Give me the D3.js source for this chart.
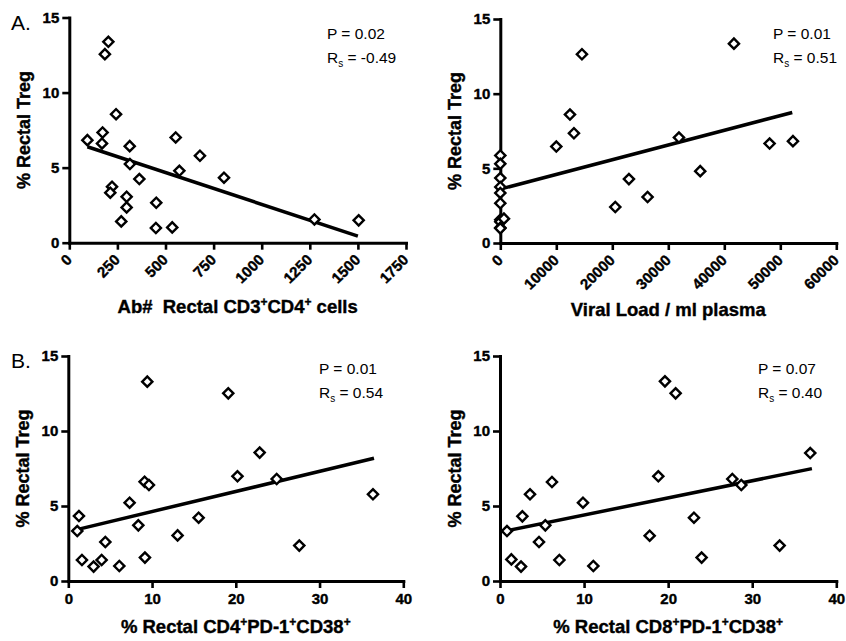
<!DOCTYPE html>
<html>
<head>
<meta charset="utf-8">
<script src="https://cdn.jsdelivr.net/npm/d3@7"></script>
<style>
  body { margin: 0; background: #fff; }
  text { font-family: "Liberation Sans", Arial, sans-serif; fill: #000; }
  .tick text { font-weight: bold; font-size: 15px; stroke: #000; stroke-width: 0.4px; }
  .heavy { stroke: #000; stroke-width: 0.4px; }
</style>
</head>
<body>
<svg id="fig"></svg>
<script>
// size of the figure
var width = 846,
    height = 641;

// panel A: absolute rectal CD3+CD4+ cells vs % Treg
var absCountA = [94, 203, 185, 173, 170, 243, 314, 315, 364, 222, 213, 298, 298, 270, 452, 450, 535, 553, 572, 679, 804, 1274, 1504];
var tregA = [6.83, 13.38, 12.56, 7.34, 6.61, 8.56, 6.43, 5.24, 4.24, 3.73, 3.33, 3.06, 2.35, 1.42, 2.66, 0.98, 1.02, 7.01, 4.79, 5.79, 4.33, 1.55, 1.49];
var fitA = [[94, 6.39], [1500, 0.44]];
var ticksA = [0, 250, 500, 750, 1000, 1250, 1500, 1750];

// panel B: viral load vs % Treg
var viralB = [0, 0, 0, 0, 0, 0, 0, 0, 0, 0, 650, 10000, 12440, 13150, 14580, 20530, 22970, 26300, 31900, 35700, 41720, 48090, 52260];
var tregB = [5.86, 5.30, 4.35, 3.75, 3.35, 2.66, 1.55, 1.42, 1.02, 0.98, 1.63, 6.46, 8.60, 7.35, 12.64, 2.41, 4.28, 3.08, 7.06, 4.81, 13.35, 6.66, 6.82];
var fitB = [[0, 3.61], [52140, 8.74]];
var ticksB = [0, 10000, 20000, 30000, 40000, 50000, 60000];

// panel C: % CD4+PD-1+CD38+ vs % Treg
var cd4C = [1.27, 1.07, 1.63, 3.02, 3.98, 4.42, 6.09, 7.32, 8.36, 9.11, 9.63, 9.15, 9.43, 13.05, 15.56, 19.1, 20.2, 22.85, 24.88, 27.58, 36.38];
var tregC = [4.33, 3.33, 1.40, 0.96, 1.40, 2.60, 1.00, 5.22, 3.71, 6.62, 6.40, 1.56, 13.29, 3.04, 4.22, 12.51, 6.98, 8.56, 6.80, 2.36, 5.78];
var fitC = [[0.52, 3.36], [36.5, 8.18]];

// panel D: % CD8+PD-1+CD38+ vs % Treg
var cd8D = [0.83, 1.35, 2.5, 2.66, 3.57, 4.64, 5.39, 6.18, 7.06, 9.87, 11.1, 17.8, 18.83, 19.62, 20.89, 23.07, 23.98, 27.63, 28.7, 33.26, 36.9];
var tregD = [3.33, 1.44, 0.96, 4.31, 5.78, 2.6, 3.71, 6.6, 1.4, 5.22, 1.0, 3.02, 6.98, 13.31, 12.51, 4.22, 1.56, 6.8, 6.4, 2.36, 8.53];
var fitD = [[0.28, 3.29], [37.1, 7.49]];
var ticksCD = [0, 10, 20, 30, 40];

var ticksY = [0, 5, 10, 15];
var pLabels = ["P = 0.02", "P = 0.01", "P = 0.01", "P = 0.07"];
var rsLabels = [" = -0.49", " = 0.51", " = 0.54", " = 0.40"];

var svg = d3.select("#fig")
    .attr("width", width)
    .attr("height", height);

// panel layout
var panels = [
    { xs: absCountA, ys: tregA, fit: fitA, xmax: 1750, ticks: ticksA, rot: true,
      l: 69.3, r: 406, t: 17.5, b: 242.7, tx: 327, ty: 39, letter: "A.", ly: 30,
      title: [["Ab#\u00a0 Rectal CD3", ""], ["+", "sup"], ["CD4", ""], ["+", "sup"], [" cells", ""]], titleY: 313 },
    { xs: viralB, ys: tregB, fit: fitB, xmax: 60000, ticks: ticksB, rot: true,
      l: 500.3, r: 836.3, t: 19, b: 243, tx: 773, ty: 39,
      title: [["Viral Load / ml plasma", ""]], titleY: 316 },
    { xs: cd4C, ys: tregC, fit: fitC, xmax: 40, ticks: ticksCD, rot: false,
      l: 68.3, r: 403.3, t: 356, b: 581, tx: 319, ty: 374, letter: "B.", ly: 368,
      title: [["% Rectal CD4", ""], ["+", "sup"], ["PD-1", ""], ["+", "sup"], ["CD38", ""], ["+", "sup"]], titleY: 633 },
    { xs: cd8D, ys: tregD, fit: fitD, xmax: 40, ticks: ticksCD, rot: false,
      l: 500, r: 836.3, t: 356, b: 581, tx: 758, ty: 374,
      title: [["% Rectal CD8", ""], ["+", "sup"], ["PD-1", ""], ["+", "sup"], ["CD38", ""], ["+", "sup"]], titleY: 633 }
];

var diamond = d3.symbol().type(d3.symbolSquare).size(52);

panels.forEach(function (p, i) {
    var x = d3.scaleLinear().domain([0, p.xmax]).range([p.l, p.r]);
    var y = d3.scaleLinear().domain([0, 15]).range([p.b, p.t]);
    var g = svg.append("g");

    // y axis
    var yAxis = g.append("g")
        .attr("transform", "translate(" + p.l + ",0)")
        .call(d3.axisLeft(y).tickValues(ticksY).tickSize(7).tickSizeOuter(0).tickPadding(3));
    // x axis
    var xAxis = g.append("g")
        .attr("transform", "translate(0," + p.b + ")")
        .call(d3.axisBottom(x).tickValues(p.ticks).tickSize(7).tickSizeOuter(0)
            .tickPadding(5).tickFormat(d3.format("d")));

    [yAxis, xAxis].forEach(function (a) {
        a.attr("font-size", 15)
            .attr("font-weight", "bold")
            .attr("font-family", "'Liberation Sans', Arial, sans-serif");
        a.select(".domain").attr("stroke", "#000").attr("stroke-width", 3).attr("stroke-linecap", "square");
        a.selectAll(".tick line").attr("stroke", "#000").attr("stroke-width", 2.6);
        a.selectAll(".tick text").attr("fill", "#000");
    });

    if (p.rot) {
        xAxis.selectAll(".tick text")
            .attr("text-anchor", "end")
            .attr("dy", null)
            .attr("y", null)
            .attr("transform", "translate(3,18) rotate(-45)");
    }

    // y axis title
    g.append("text")
        .attr("class", "heavy")
        .attr("transform", "translate(" + (p.l - 39) + "," + ((p.t + p.b) / 2) + ") rotate(-90)")
        .attr("text-anchor", "middle")
        .style("font-weight", "bold")
        .style("font-size", "18px")
        .text("% Rectal Treg");

    // x axis title
    var xt = g.append("text")
        .attr("class", "heavy")
        .attr("x", (p.l + p.r) / 2)
        .attr("y", p.titleY)
        .attr("text-anchor", "middle")
        .style("font-weight", "bold")
        .style("font-size", "18.5px");
    p.title.forEach(function (part) {
        var ts = xt.append("tspan").text(part[0]);
        if (part[1] == "sup") {
            ts.attr("dy", -7).style("font-size", "12px");
        } else if (xt.selectAll("tspan").size() > 1) {
            ts.attr("dy", 7);
        }
    });

    // regression line
    g.append("line")
        .attr("x1", x(p.fit[0][0])).attr("y1", y(p.fit[0][1]))
        .attr("x2", x(p.fit[1][0])).attr("y2", y(p.fit[1][1]))
        .attr("stroke", "#000")
        .attr("stroke-width", 3.5);

    // points
    g.selectAll("path.pt")
        .data(p.xs.map(function (d, k) { return [d, p.ys[k]]; }))
        .enter().append("path")
        .attr("class", "pt")
        .attr("d", diamond)
        .attr("transform", function (d) {
            return "translate(" + x(d[0]) + "," + y(d[1]) + ") rotate(45)";
        })
        .attr("fill", "#fff")
        .attr("stroke", "#000")
        .attr("stroke-width", 2.4);

    // stats text
    g.append("text")
        .attr("x", p.tx).attr("y", p.ty)
        .style("font-size", "15.5px")
        .text(pLabels[i]);
    var rs = g.append("text")
        .attr("x", p.tx).attr("y", p.ty + 24)
        .style("font-size", "15.5px");
    rs.append("tspan").text("R");
    rs.append("tspan").attr("dy", 4).style("font-size", "10px").text("s");
    rs.append("tspan").attr("dy", -4).text(rsLabels[i]);

    // panel letter
    if (p.letter) {
        g.append("text")
            .attr("x", 11).attr("y", p.ly)
            .style("font-size", "21px")
            .text(p.letter);
    }
});
</script>
</body>
</html>
